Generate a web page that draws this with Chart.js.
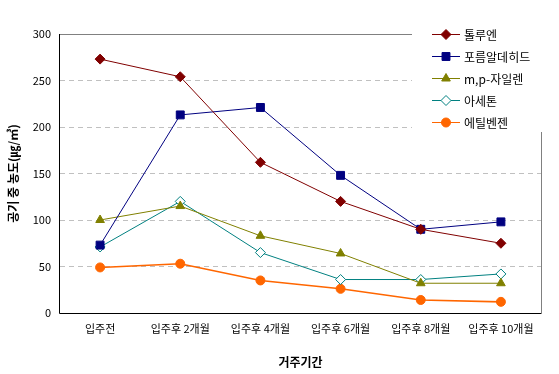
<!DOCTYPE html>
<html>
<head>
<meta charset="utf-8">
<script src="https://cdn.jsdelivr.net/npm/chart.js@4.4.1/dist/chart.umd.min.js"></script>
<style>
  body { margin:0; background:#fff; }
  #wrap { width:559px; height:374px; }
</style>
</head>
<body>
<div id="wrap"><canvas id="myChart" width="559" height="374"></canvas></div>
<script>
// data
const periods = ["입주전", "입주후 2개월", "입주후 4개월", "입주후 6개월", "입주후 8개월", "입주후 10개월"];
const seriesNames = ["톨루엔", "포름알데히드", "m,p-자일렌", "아세톤", "에틸벤젠"];
const toluene = [273, 254, 162, 120, 90, 75];
const formaldehyde = [73, 213, 221, 148, 90, 98];
const xylene = [100, 115, 83, 64, 32, 32];
const acetone = [71, 120, 65, 36, 36, 42];
const ethylbenzene = [49, 53, 35, 26, 14, 12];
const yTicks = [0, 50, 100, 150, 200, 250, 300];

const FONT = "'Noto Sans CJK KR', 'DejaVu Sans', sans-serif";

function makeSet(label, values, color, style, fill, radius, width) {
    return {
        label: label,
        data: values,
        borderColor: color,
        borderWidth: width,
        backgroundColor: fill,
        pointStyle: style,
        pointRadius: radius,
        pointHoverRadius: radius,
        pointBorderColor: color,
        pointBackgroundColor: fill,
        pointBorderWidth: 1,
        tension: 0
    };
}

const datasets = [
    makeSet(seriesNames[0], toluene, "#800000", "rectRot", "#800000", 5, 1),
    makeSet(seriesNames[1], formaldehyde, "#000080", "rect", "#000080", 5.6, 1),
    makeSet(seriesNames[2], xylene, "#808000", "triangle", "#808000", 5, 1),
    makeSet(seriesNames[3], acetone, "#008080", "rectRot", "#ffffff", 5, 1),
    makeSet(seriesNames[4], ethylbenzene, "#ff6600", "circle", "#ff6600", 4.5, 1.6)
];

// plot frame: black left/bottom, gray top/right
const framePlugin = {
    id: "frame",
    beforeDatasetsDraw(chart) {
        const a = chart.chartArea;
        const ctx = chart.ctx;
        ctx.save();
        ctx.lineWidth = 1;
        ctx.strokeStyle = "#808080";
        ctx.beginPath();
        ctx.moveTo(a.left, a.top + 0.5);
        ctx.lineTo(a.right + 0.5, a.top + 0.5);
        ctx.lineTo(a.right + 0.5, a.bottom);
        ctx.stroke();
        ctx.strokeStyle = "#000000";
        ctx.beginPath();
        ctx.moveTo(a.left - 0.5, a.top);
        ctx.lineTo(a.left - 0.5, a.bottom + 0.5);
        ctx.lineTo(a.right + 0.5, a.bottom + 0.5);
        ctx.stroke();
        ctx.restore();
    }
};

// legend drawn over the top right of the plot, like the original
const legendPlugin = {
    id: "boxLegend",
    afterDatasetsDraw(chart) {
        const ctx = chart.ctx;
        ctx.save();
        ctx.fillStyle = "#ffffff";
        ctx.fillRect(412, 20, 140, 112);
        chart.data.datasets.forEach(function(ds, i) {
            const y = 34 + i * 22;
            ctx.strokeStyle = ds.borderColor;
            ctx.lineWidth = 1;
            ctx.beginPath();
            ctx.moveTo(432, y + 0.5);
            ctx.lineTo(460, y + 0.5);
            ctx.stroke();
            ctx.fillStyle = ds.pointBackgroundColor;
            ctx.strokeStyle = ds.pointBorderColor;
            Chart.helpers.drawPoint(ctx, {
                pointStyle: ds.pointStyle,
                radius: ds.pointRadius,
                borderWidth: 1,
                rotation: 0
            }, 446, y + 0.5);
            ctx.fillStyle = "#000000";
            ctx.font = "12px " + FONT;
            ctx.textBaseline = "middle";
            ctx.textAlign = "left";
            ctx.fillText(ds.label, 464, y + 1);
        });
        ctx.restore();
    }
};

const ctx = document.getElementById("myChart").getContext("2d");
const myChart = new Chart(ctx, {
    type: "line",
    data: { labels: periods, datasets: datasets },
    options: {
        responsive: false,
        animation: false,
        layout: { padding: { top: 34, right: 18, left: 0, bottom: 0 } },
        plugins: {
            legend: { display: false },
            tooltip: { enabled: false }
        },
        scales: {
            x: {
                offset: true,
                grid: { display: false, drawTicks: false },
                border: { display: false },
                ticks: { color: "#000", font: { family: FONT, size: 11 }, padding: 9, maxRotation: 0, autoSkip: false },
                title: { display: true, text: "거주기간", color: "#000", font: { family: FONT, size: 12, weight: "bold" }, padding: { top: 14 } },
                afterFit(scale) { scale.height = 61; }
            },
            y: {
                min: 0,
                max: 300,
                afterBuildTicks(scale) { scale.ticks = yTicks.map(function(v) { return { value: v }; }); },
                grid: {
                    drawTicks: false,
                    color(c) { return (c.tick && (c.tick.value === 0 || c.tick.value === 300)) ? "rgba(0,0,0,0)" : "#c0c0c0"; },
                    lineWidth: 1
                },
                border: { display: false, dash: [5, 4] },
                ticks: { color: "#000", font: { family: FONT, size: 11 }, padding: 9 },
                title: { display: true, text: "공기 중 농도(㎍/㎥)", color: "#000", font: { family: FONT, size: 12, weight: "bold" }, padding: { top: 6, bottom: 0 } },
                afterFit(scale) { scale.width = 60; }
            }
        }
    },
    plugins: [framePlugin, legendPlugin]
});
</script>
</body>
</html>
